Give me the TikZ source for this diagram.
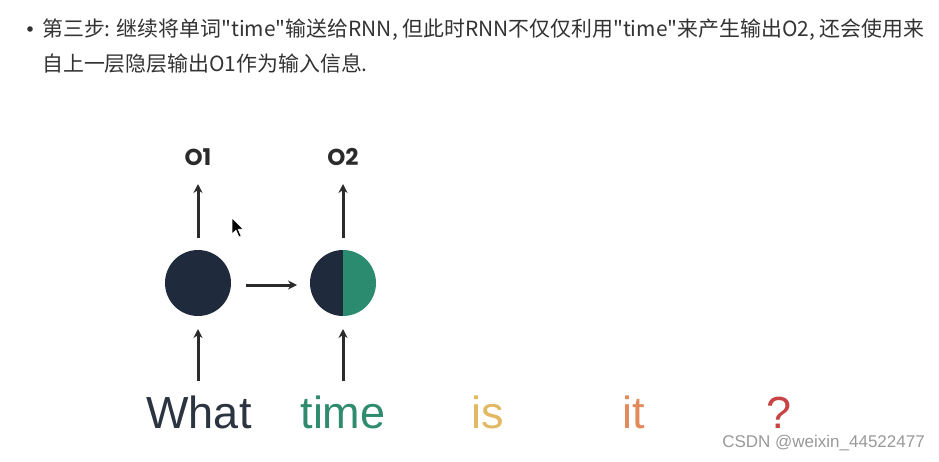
\documentclass[tikz,border=0pt]{standalone}
\usepackage{fontspec}
\usetikzlibrary{calc,arrows.meta}
\setmainfont{Noto Sans}
\newfontfamily\cjk{Noto Sans CJK SC}
\newfontfamily\wordfont{Liberation Sans}
\newfontfamily\lblfont{Poppins}
\definecolor{navy}{HTML}{1F2B3C}
\definecolor{teal}{HTML}{2A8B6E}
\definecolor{arrowc}{HTML}{2B2B2B}
\definecolor{wdark}{HTML}{2B3440}
\definecolor{wgreen}{HTML}{2E8B6E}
\definecolor{wyellow}{HTML}{E2B862}
\definecolor{worange}{HTML}{E28A5A}
\definecolor{wred}{HTML}{C84444}
\definecolor{txt}{HTML}{333333}
\begin{document}
\begin{tikzpicture}[x=1pt,y=-1pt,
  arr/.style={draw=arrowc,line width=3pt,-{Stealth[length=9pt,width=9pt]}},
  word/.style={font=\wordfont\fontsize{45}{45}\selectfont,anchor=base},
  outlab/.style={font=\lblfont\bfseries\fontsize{23}{23}\selectfont,text=arrowc},
  cnline/.style={font=\cjk\fontsize{20.9}{20.9}\selectfont,text=txt,anchor=base west,inner sep=0pt}]
\useasboundingbox[fill=white] (0,0) rectangle (939,461);
% bullet text
\fill[txt] (30,29) circle (2.8);
\node[cnline] (l1) at (42,36) {第三步: 继续将单词"time"输送给RNN, 但此时RNN不仅仅利用"time"来产生输出O2, 还会使用来};
\node[cnline] (l2) at (42,71) {自上一层隐层输出O1作为输入信息.};
% cells
\coordinate (c1) at (198,283);
\coordinate (c2) at (343,283);
\fill[navy] (c1) circle (33);
\fill[navy] (343,250) arc (-90:-270:33) -- cycle;
\fill[teal] (343,250) arc (-90:90:33) -- cycle;
\node[circle,minimum size=66pt,inner sep=0pt] (n1) at (c1) {};
\node[circle,minimum size=66pt,inner sep=0pt] (n2) at (c2) {};
% outputs
\node[outlab] (o1) at (198,157) {O1};
\node[outlab] (o2) at (343,157) {O2};
\coordinate (o1s) at (198,238);
\coordinate (o1e) at (198,184);
\coordinate (o2s) at (343,238);
\coordinate (o2e) at (343,184);
\draw[arr] (o1s) -- (o1e);
\draw[arr] (o2s) -- (o2e);
\coordinate (hs) at (246,285);
\coordinate (he) at (297,285);
\draw[arr] (hs) -- (he);
% inputs
\coordinate (i1s) at (198,381);
\coordinate (i1e) at (198,329);
\coordinate (i2s) at (343,381);
\coordinate (i2e) at (343,329);
\draw[arr] (i1s) -- (i1e);
\draw[arr] (i2s) -- (i2e);
% words
\node[word,text=wdark] (w1) at (199,428) {What};
\node[word,text=wgreen] (w2) at (343,428) {time};
\node[word,text=wyellow] (w3) at (488,428) {is};
\node[word,text=worange] (w4) at (634,428) {it};
\node[word,text=wred] (w5) at (779,428) {?};
% cursor
\filldraw[black,draw=white,line width=0.5pt] (232,218) -- (232,234) -- (236,230) -- (239,237) -- (241,236) -- (238,229) -- (243,229) -- cycle;
% watermark
\node[font=\wordfont\fontsize{17}{17}\selectfont,text=gray!80,anchor=base east,inner sep=0pt] (wm) at (925,447) {CSDN @weixin\_44522477};
\end{tikzpicture}
\end{document}
